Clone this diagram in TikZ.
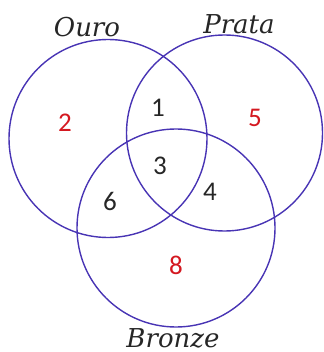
\documentclass[tikz,border=0pt]{standalone}
\usepackage{fontspec}
\setmainfont{Carlito}
\newfontfamily\labelfont{DejaVu Serif}
\definecolor{vennline}{RGB}{72,52,180}
\definecolor{vennred}{RGB}{212,24,32}
\begin{document}
\begin{tikzpicture}[x=1pt,y=-1pt,
  vcirc/.style={circle,draw=vennline,line width=1.4pt,inner sep=0pt,minimum size=198pt},
  setlabel/.style={font=\labelfont\itshape\fontsize{26}{30}\selectfont,text=black!85,inner sep=0pt},
  num/.style={font=\fontsize{27}{30}\selectfont,inner sep=0pt,text=black!85},
  rednum/.style={num,text=vennred}]
\useasboundingbox (0,0) rectangle (323,352);
\node[vcirc] (ouro) at (108,138.5) {};
\node[vcirc, minimum size=196pt] (prata) at (224.5,133) {};
\node[vcirc] (bronze) at (176,228) {};
\node[setlabel] (lo) at (87,27) {Ouro};
\node[setlabel] (lp) at (239,24) {Prata};
\node[setlabel] (lb) at (173,338) {Bronze};
\node[rednum] (n2) at (65,123) {2};
\node[rednum] (n5) at (255,118) {5};
\node[num] (n1) at (158,108) {1};
\node[num] (n3) at (160,166) {3};
\node[num] (n4) at (210,192) {4};
\node[num] (n6) at (110,201) {6};
\node[rednum] (n8) at (176,265) {8};
\end{tikzpicture}
\end{document}
